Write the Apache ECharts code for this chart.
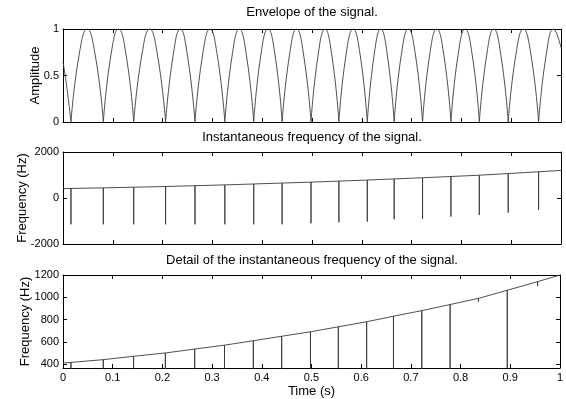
<!DOCTYPE html>
<html>
<head>
<meta charset="utf-8">
<script src="https://cdn.jsdelivr.net/npm/echarts@6/dist/echarts.min.js"></script>
<style>
  html, body { margin: 0; padding: 0; background: #fff; }
  #chart { width: 566px; height: 399px; }
</style>
</head>
<body>
<div id="chart"></div>
<script>
// Envelope of the signal: [time (s), amplitude]; zeros are the cusps between lobes
const envelope = [
  [0, 0.65], [0.008, 0.36], [0.016, 0],
  [0.032, 0.71], [0.0485, 1], [0.065, 0.71], [0.081, 0],
  [0.096, 0.71], [0.1115, 1], [0.127, 0.71], [0.142, 0],
  [0.158, 0.71], [0.174, 1], [0.19, 0.71], [0.206, 0],
  [0.221, 0.71], [0.2355, 1], [0.25, 0.71], [0.265, 0],
  [0.28, 0.71], [0.295, 1], [0.31, 0.71], [0.325, 0],
  [0.3395, 0.71], [0.354, 1], [0.3685, 0.71], [0.383, 0],
  [0.397, 0.71], [0.4115, 1], [0.426, 0.71], [0.44, 0],
  [0.4545, 0.71], [0.469, 1], [0.4835, 0.71], [0.498, 0],
  [0.512, 0.71], [0.526, 1], [0.54, 0.71], [0.554, 0],
  [0.568, 0.71], [0.5825, 1], [0.597, 0.71], [0.611, 0],
  [0.6245, 0.71], [0.638, 1], [0.6515, 0.71], [0.665, 0],
  [0.679, 0.71], [0.6935, 1], [0.708, 0.71], [0.722, 0],
  [0.736, 0.71], [0.7505, 1], [0.765, 0.71], [0.779, 0],
  [0.793, 0.71], [0.8075, 1], [0.822, 0.71], [0.836, 0],
  [0.8505, 0.71], [0.865, 1], [0.8795, 0.71], [0.894, 0],
  [0.909, 0.71], [0.9245, 1], [0.94, 0.71], [0.955, 0],
  [0.97, 0.71], [0.985, 1], [1, 0.8]
];

// Instantaneous frequency (Hz): smooth rise with a phase-jump spike at every envelope zero
const freqStart = [0, 410];
const freqEnd = [1, 1200];
const spikeTimes = [0.016, 0.081, 0.142, 0.206, 0.265, 0.325, 0.383, 0.44, 0.498,
                    0.554, 0.611, 0.665, 0.722, 0.779, 0.836, 0.894, 0.955];
const spikeBase  = [415, 440, 470, 500, 535, 570, 610, 650, 690,
                    735, 780, 830, 880, 935, 990, 1063, 1140];
const spikeLow   = [-1144, -1144, -1144, -1144, -1144, -1144, -1144, -1144, -1100,
                    -1057, -1026, -926, -913, -808, -738, -633, -520];
// Lowest value of each spike as seen in the detail view
const detailLow  = [-1144, -1144, -1144, -1144, -1144, -1144, -1144, -1144, -1100,
                    -1057, -1026, -926, -913, -808, 960, -633, 1100];

const timeTicks = [0, 0.1, 0.2, 0.3, 0.4, 0.5, 0.6, 0.7, 0.8, 0.9, 1];
const ampTicks = [0, 0.5, 1];
const freqTicks = [-2000, 0, 2000];
const detailTicks = [400, 600, 800, 1000, 1200];

// Split the envelope into separate lobes so each cusp stays sharp
function envelopeSegments(pts) {
  const out = [];
  pts.forEach((p, i) => {
    out.push(p);
    if (p[1] === 0 && i > 0 && i < pts.length - 1) {
      out.push([p[0], null]);
      out.push(p);
    }
  });
  return out;
}

function freqSeries(lows) {
  const out = [freqStart];
  spikeTimes.forEach((t, i) => {
    out.push([t, spikeBase[i]]);
    out.push([t, lows[i]]);
    out.push([t, spikeBase[i]]);
  });
  out.push(freqEnd);
  return out;
}

const FONT = 'Liberation Sans, Arial, Helvetica, sans-serif';
const lineColor = '#3a3a3a';
const plain = v => String(v);

const grids = [
  { left: 63, width: 498, top: 29, height: 93 },
  { left: 63, width: 498, top: 152, height: 92 },
  { left: 63, width: 498, top: 275, height: 94 }
];

const xAxes = [];
const yAxes = [];
const yCfg = [
  { min: 0, max: 1, ticks: ampTicks, name: 'Amplitude', gap: 21 },
  { min: -2000, max: 2000, ticks: freqTicks, name: 'Frequency (Hz)', gap: 34 },
  { min: 365, max: 1200, ticks: detailTicks, name: 'Frequency (Hz)', gap: 31 }
];

grids.forEach((g, i) => {
  ['bottom', 'top'].forEach(pos => {
    const showLabel = (i === 2 && pos === 'bottom');
    xAxes.push({
      gridIndex: i, type: 'value', position: pos, min: 0, max: 1,
      axisLine: { show: true, onZero: false, lineStyle: { color: '#000', width: 1 } },
      axisTick: { show: true, inside: true, length: 4, customValues: timeTicks, lineStyle: { color: '#000' } },
      axisLabel: { show: showLabel, customValues: timeTicks, formatter: plain, margin: 4, color: '#000', fontSize: 11, fontFamily: FONT },
      splitLine: { show: false },
      name: showLabel ? 'Time (s)' : '',
      nameLocation: 'middle', nameGap: 17, nameMoveOverlap: false,
      nameTextStyle: { color: '#000', fontSize: 13, fontFamily: FONT }
    });
  });
  const c = yCfg[i];
  ['left', 'right'].forEach(pos => {
    const left = pos === 'left';
    yAxes.push({
      gridIndex: i, type: 'value', position: pos, min: c.min, max: c.max,
      axisLine: { show: true, onZero: false, lineStyle: { color: '#000', width: 1 } },
      axisTick: { show: true, inside: true, length: 4, customValues: c.ticks, lineStyle: { color: '#000' } },
      axisLabel: { show: left, customValues: c.ticks, formatter: plain, margin: 4, color: '#000', fontSize: 11, fontFamily: FONT },
      splitLine: { show: false },
      name: left ? c.name : '',
      nameLocation: 'middle', nameGap: c.gap, nameRotate: 90, nameMoveOverlap: false,
      nameTextStyle: { color: '#000', fontSize: 13, fontFamily: FONT }
    });
  });
});

const titles = [
  { text: 'Envelope of the signal.', top: 6 },
  { text: 'Instantaneous frequency of the signal.', top: 131 },
  { text: 'Detail of the instantaneous frequency of the signal.', top: 254 }
].map(t => ({
  text: t.text, left: 312, top: t.top, textAlign: 'center', padding: 0,
  textStyle: { color: '#000', fontSize: 13, fontWeight: 'normal', fontFamily: FONT }
}));

const baseLine = { color: lineColor, width: 0.9 };

const option = {
  animation: false,
  backgroundColor: '#fff',
  title: titles,
  grid: grids,
  xAxis: xAxes,
  yAxis: yAxes,
  series: [
    {
      type: 'line', xAxisIndex: 0, yAxisIndex: 0, data: envelopeSegments(envelope),
      smooth: 0.5, showSymbol: false, connectNulls: false, lineStyle: baseLine, clip: true
    },
    {
      type: 'line', xAxisIndex: 2, yAxisIndex: 2, data: freqSeries(spikeLow),
      showSymbol: false, lineStyle: baseLine, clip: true
    },
    {
      type: 'line', xAxisIndex: 4, yAxisIndex: 4, data: freqSeries(detailLow),
      showSymbol: false, lineStyle: baseLine, clip: true
    }
  ]
};

const chart = echarts.init(document.getElementById('chart'), null, { renderer: 'canvas' });
chart.setOption(option);
</script>
</body>
</html>
